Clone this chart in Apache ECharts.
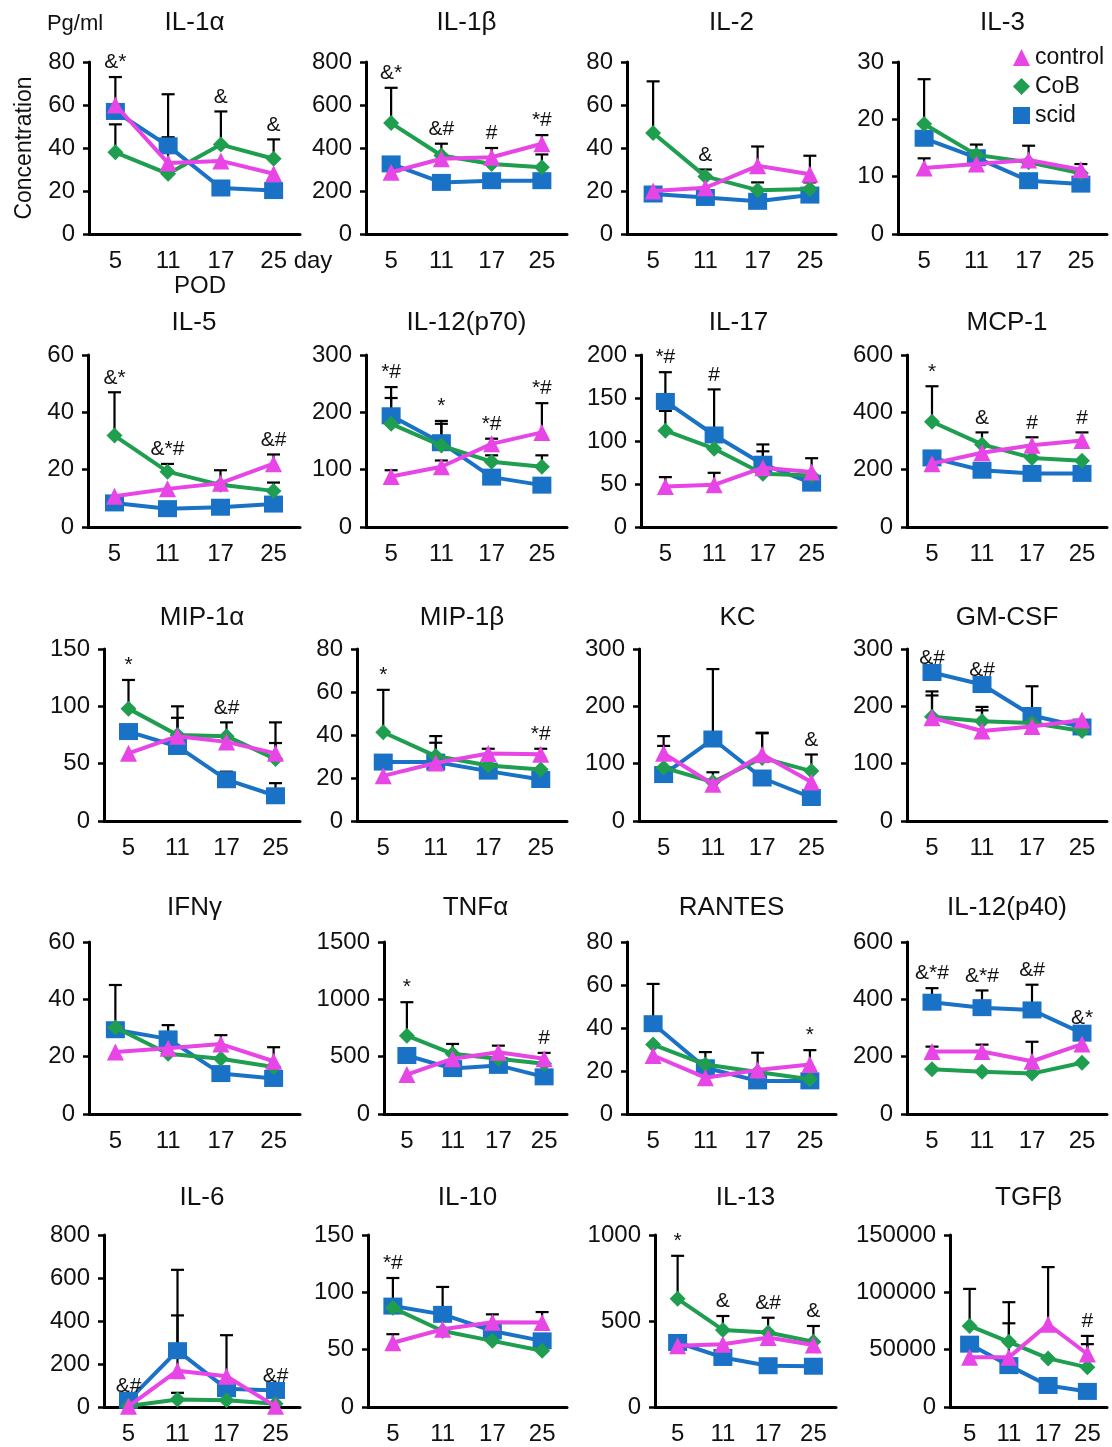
<!DOCTYPE html>
<html>
<head>
<meta charset="utf-8">
<script src="https://cdn.jsdelivr.net/npm/echarts@6/dist/echarts.min.js"></script>
<style>
  html, body { margin: 0; padding: 0; background: #fff; }
  #chart { width: 1112px; height: 1447px; }
</style>
</head>
<body>
<div id="chart"></div>
<script>
const days = ['5', '11', '17', '25'];
const cytokines = ['IL-1α', 'IL-1β', 'IL-2', 'IL-3', 'IL-5', 'IL-12(p70)', 'IL-17', 'MCP-1',
  'MIP-1α', 'MIP-1β', 'KC', 'GM-CSF', 'IFNγ', 'TNFα', 'RANTES', 'IL-12(p40)',
  'IL-6', 'IL-10', 'IL-13', 'TGFβ'];
const axisMax = [80, 800, 80, 30, 60, 300, 200, 600, 150, 80, 300, 300, 60, 1500, 80, 600, 800, 150, 1000, 150000];
const axisStep = [20, 200, 20, 10, 20, 100, 50, 200, 50, 20, 100, 100, 20, 500, 20, 200, 200, 50, 500, 50000];

// mean values, one row per cytokine, columns = days
const control = [
  [60, 33, 34, 28], [287, 350, 357, 420], [20, 21.5, 31.7, 27.8], [11.5, 12.2, 12.9, 11.2],
  [10.7, 13.3, 15.3, 22.1], [88, 105, 145, 165], [47, 49, 69, 64], [221, 259, 285, 302],
  [59, 74, 69, 59], [21, 27, 31.4, 31], [118, 64, 116, 68], [180, 157, 165, 176],
  [21.6, 22.9, 24.4, 18.4], [344, 482, 539, 482], [27.2, 16.9, 20.5, 23], [218, 218, 184, 244],
  [3, 169, 143, 3], [56, 67.8, 74, 73.6], [356, 365, 404, 360], [43300, 43300, 72100, 46200]
];
const cob = [
  [38, 28, 41.6, 35], [516, 365, 326, 310], [47, 26.8, 20.4, 20.9], [19.2, 13.8, 12.5, 10.6],
  [31.9, 19.3, 14.7, 12.6], [180, 142, 114, 105], [112, 91, 62, 60], [367, 288, 241, 231],
  [98, 75, 74, 54], [41.3, 30.2, 25.8, 24], [93, 68, 110, 87], [182, 174, 171, 157],
  [30.2, 21, 19.3, 16.4], [683, 525, 482, 439], [32.3, 23, 19.5, 16.2], [156, 147, 141, 179],
  [5, 35, 31, 15], [86.5, 66.3, 57.7, 49], [629, 448, 433, 379], [70700, 56800, 42400, 34600]
];
const scid = [
  [57, 41, 21.4, 20.2], [326, 240, 248, 248], [18.6, 17, 15.2, 18.1], [16.7, 13.3, 9.3, 8.7],
  [8.4, 6.4, 6.9, 8], [194, 147, 87, 73], [146, 107, 73, 51], [241, 198, 187, 187],
  [78, 65, 36, 22], [27.4, 27.4, 23.2, 19.3], [81, 143, 75, 41], [259, 238, 184, 164],
  [29.4, 26.2, 14.1, 12.4], [510, 396, 424, 324], [42, 21.5, 15.4, 15.4], [390, 371, 363, 282],
  [31, 262, 85, 77], [88, 80.8, 66.3, 57.7], [375, 288, 240, 237], [54800, 36100, 18800, 13600]
];

// upper end of the error bars (null = none drawn)
const controlErr = [
  [73, 45, null, null], [null, 420, 400, 460], [null, null, 40.7, 36.4], [13.2, null, 15.4, 12.2],
  [null, null, 19.8, 25.3], [99, 116, 154, 216], [58, 63, null, null], [null, null, 313, 330],
  [null, 100, null, 86], [null, null, 33.6, 33.6], [148, 85, 154, null], [226, 199, null, null],
  [null, null, 27.5, 23.3], [null, null, 596, 533], [null, null, 28.5, 29.7], [235, 242, 252, null],
  [null, 426, 334, null], [63.5, null, 80.8, 82.8], [null, null, null, null], [null, 73000, 122000, 62000]
];
const cobErr = [
  [51, null, 57, 44], [680, null, null, 370], [71, 30, 24, 24], [27, 15.6, null, null],
  [47, 22, null, 15.5], [225, 180, 125, 125], [135, null, 88, null], [491, 330, null, null],
  [123, 90, 86, 68], [61, 39.5, null, null], [131, null, 153, 116], [219, 193, null, null],
  [null, null, null, null], [975, 611, null, null], [null, null, null, null], [null, null, null, null],
  [null, 66, null, null], [null, null, null, null], [879, 529, 519, 471], [103000, 91400, null, 54800]
];
const scidErr = [
  [null, 65, null, null], [null, null, null, null], [null, null, null, null], [null, null, null, null],
  [null, null, null, null], [244, 185, null, null], [180, 160, 96, 80], [null, null, null, null],
  [null, null, 43, 33], [null, 36.4, null, null], [null, 265, null, null], [null, null, 235, null],
  [45, 31, null, null], [null, null, null, null], [60.5, 28.8, null, null], [439, 431, 451, null],
  [null, 638, null, null], [112.5, 104.7, null, null], [null, null, null, null], [null, null, null, null]
];

// significance marks above each day
const marks = [
  ['&*', '', '&', '&'], ['&*', '&#', '#', '*#'], ['', '&', '', ''], ['', '', '', ''],
  ['&*', '&*#', '', '&#'], ['*#', '*', '*#', '*#'], ['*#', '#', '', ''], ['*', '&', '#', '#'],
  ['*', '', '&#', ''], ['*', '', '', '*#'], ['', '', '', '&'], ['&#', '&#', '', ''],
  ['', '', '', ''], ['*', '', '', '#'], ['', '', '', '*'], ['&*#', '&*#', '&#', '&*'],
  ['&#', '', '', '&#'], ['*#', '', '', ''], ['*', '&', '&#', '&'], ['', '', '', '#']
];

const font = "'Liberation Sans', Arial, sans-serif";
const colors = { control: '#E845E6', CoB: '#1E9E4E', scid: '#1A72C6' };

// layout of the 5x4 panels
const rowTops = [62, 355, 649, 942, 1235];
const titleYs = [23, 323, 618, 908, 1198];
const plotH = 172;
const colRight = [300, 567, 836, 1107];
const gridLeft = [
  [89, 366, 627, 898],
  [88, 366, 641, 907],
  [104, 357, 639, 907],
  [89, 384, 627, 907],
  [104, 368, 655, 950]
];

const option = {
  animation: false,
  backgroundColor: '#fff',
  grid: [], xAxis: [], yAxis: [], series: [],
  legend: {
    orient: 'vertical',
    left: 1008, top: 41,
    itemWidth: 17, itemHeight: 17, itemGap: 6,
    textStyle: { fontFamily: font, fontSize: 23, color: '#111' },
    data: [
      { name: 'control', icon: 'triangle' },
      { name: 'CoB', icon: 'diamond' },
      { name: 'scid', icon: 'rect' }
    ]
  },
  graphic: []
};

function txt(text, x, y, size, extra) {
  return Object.assign({
    type: 'text', x: x, y: y, silent: true,
    style: {
      text: text, font: size + 'px ' + font, fill: '#111',
      textAlign: 'center', textVerticalAlign: 'middle', align: 'center', verticalAlign: 'middle'
    }
  }, extra || {});
}

cytokines.forEach((name, k) => {
  const r = Math.floor(k / 4), c = k % 4;
  const left = gridLeft[r][c];
  const width = colRight[c] - left;
  option.grid.push({ left: left, top: rowTops[r], width: width, height: plotH });
  option.xAxis.push({
    gridIndex: k, type: 'category', data: days, boundaryGap: true,
    axisLine: { lineStyle: { color: '#000', width: 3 } },
    axisTick: { length: 7, lineStyle: { color: '#000', width: 3 } },
    axisLabel: { color: '#111', fontFamily: font, fontSize: 24, margin: 15 },
    splitLine: { show: false }
  });
  option.yAxis.push({
    gridIndex: k, type: 'value', min: 0, max: axisMax[k], interval: axisStep[k],
    axisLine: { show: true, lineStyle: { color: '#000', width: 3 } },
    axisTick: { show: true, length: 6, lineStyle: { color: '#000', width: 2.5 } },
    axisLabel: { color: '#111', fontFamily: font, fontSize: 24, margin: 14, formatter: v => String(v) },
    splitLine: { show: false }
  });

  option.graphic.push(txt(name, left + width / 2, titleYs[r], 26));

  // error bars under the lines
  const errData = [];
  [[scid, scidErr], [cob, cobErr], [control, controlErr]].forEach(([m, e]) => {
    e[k].forEach((u, i) => { if (u != null) errData.push([i, m[k][i], u]); });
  });
  option.series.push({
    type: 'custom', xAxisIndex: k, yAxisIndex: k, z: 1, clip: false, silent: true,
    data: errData,
    renderItem: (params, api) => {
      const p0 = api.coord([api.value(0), api.value(1)]);
      const p1 = api.coord([api.value(0), api.value(2)]);
      const st = { stroke: '#000', lineWidth: 2.2 };
      return {
        type: 'group', children: [
          { type: 'line', shape: { x1: p0[0], y1: p0[1], x2: p1[0], y2: p1[1] }, style: st },
          { type: 'line', shape: { x1: p1[0] - 6.5, y1: p1[1], x2: p1[0] + 6.5, y2: p1[1] }, style: st }
        ]
      };
    }
  });

  const lineSeries = [
    ['scid', scid, 'rect', [19, 17]],
    ['CoB', cob, 'diamond', [16, 16]],
    ['control', control, 'triangle', [17, 17]]
  ];
  lineSeries.forEach(([sname, vals, sym, size], j) => {
    option.series.push({
      name: sname, type: 'line', xAxisIndex: k, yAxisIndex: k, z: 3 + j,
      data: vals[k], symbol: sym, symbolSize: size, showSymbol: true,
      lineStyle: { color: colors[sname], width: 4 },
      itemStyle: { color: colors[sname] }
    });
  });

  // significance marks placed above the highest mark/error bar of each day
  const markData = [];
  marks[k].forEach((t, i) => {
    if (!t) return;
    const tops = [control[k][i], cob[k][i], scid[k][i], controlErr[k][i], cobErr[k][i], scidErr[k][i]]
      .filter(v => v != null);
    markData.push({ value: [i, Math.max.apply(null, tops)], label: t });
  });
  option.series.push({
    type: 'custom', xAxisIndex: k, yAxisIndex: k, z: 10, clip: false, silent: true,
    data: markData,
    renderItem: (params, api) => {
      const p = api.coord([api.value(0), api.value(1)]);
      return {
        type: 'text', x: p[0], y: p[1] - 4,
        style: {
          text: markData[params.dataIndex].label, font: '21px ' + font, fill: '#111',
          textAlign: 'center', textVerticalAlign: 'bottom', align: 'center', verticalAlign: 'bottom'
        }
      };
    }
  });
});

option.graphic.push(txt('Pg/ml', 75, 24, 22));
option.graphic.push(txt('Concentration', 25, 148, 23, { rotation: Math.PI / 2 }));
option.graphic.push(txt('day', 313, 261, 24));
option.graphic.push(txt('POD', 200, 286, 24));

const chart = echarts.init(document.getElementById('chart'), null, { renderer: 'canvas' });
chart.setOption(option);
</script>
</body>
</html>
